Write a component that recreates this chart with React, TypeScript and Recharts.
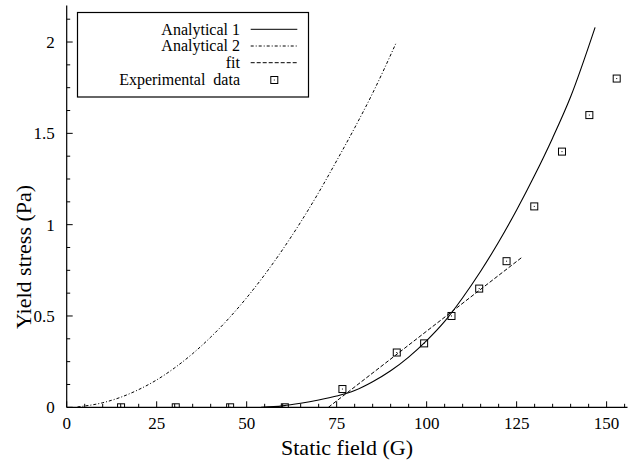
import React from 'react';
import { ComposedChart, Line, Scatter, XAxis, YAxis, Legend } from 'recharts';

// ---- data ----
const analytical1X = [54, 60, 65, 70, 75, 80, 85, 90, 95, 100, 105, 110, 115, 120, 125, 130, 135, 140, 146.8];
const analytical1Y = [0, 0.008, 0.022, 0.04, 0.062, 0.092, 0.14, 0.2, 0.275, 0.365, 0.47, 0.6, 0.745, 0.905, 1.08, 1.27, 1.475, 1.7, 2.08];

const analytical2X = [3, 10, 15, 20, 25, 30, 35, 40, 45, 50, 55, 60, 65, 70, 75, 80, 85, 91.4];
const analytical2Y = [0.002, 0.025, 0.055, 0.097, 0.15, 0.216, 0.294, 0.384, 0.486, 0.6, 0.726, 0.864, 1.014, 1.176, 1.35, 1.53, 1.72, 1.99];

const fitX = [72.7, 126.4];
const fitY = [0, 0.82];

const expX = [15.1, 30.3, 45.4, 60.6, 76.6, 91.7, 99.3, 106.9, 114.6, 122.2, 129.9, 137.6, 145.2, 152.8];
const expY = [0, 0, 0, 0, 0.1, 0.3, 0.35, 0.5, 0.65, 0.8, 1.1, 1.4, 1.6, 1.8];

const xTicks = [0, 5, 10, 15, 20, 25, 30, 35, 40, 45, 50, 55, 60, 65, 70, 75, 80, 85, 90, 95, 100, 105, 110, 115, 120, 125, 130, 135, 140, 145, 150, 155];
const yTicks = [0, 0.125, 0.25, 0.375, 0.5, 0.625, 0.75, 0.875, 1, 1.125, 1.25, 1.375, 1.5, 1.625, 1.75, 1.875, 2, 2.125];

const legendLabels = ['Analytical 1', 'Analytical 2', 'fit', 'Experimental  data'];

const zip = (xs: number[], ys: number[]) => xs.map((x, i) => ({ x, y: ys[i] }));
const a1Data = zip(analytical1X, analytical1Y);
const a2Data = zip(analytical2X, analytical2Y);
const fitData = zip(fitX, fitY);
const expData = zip(expX, expY);

const FONT = '"Liberation Serif", "Times New Roman", serif';
const TICK_FONT = 17;

const isMajorX = (v: number) => Math.abs(v / 25 - Math.round(v / 25)) < 1e-6;
const isMajorY = (v: number) => Math.abs(v / 0.5 - Math.round(v / 0.5)) < 1e-6;

const XTickBottom = (props: any) => {
  const { x, y, payload } = props;
  const v = payload.value;
  const major = isMajorX(v);
  return (
    <g>
      <line x1={x} x2={x} y1={y} y2={y - (major ? 6 : 3.5)} stroke="#000" strokeWidth={1} />
      {major && (
        <text x={x} y={y + 22} textAnchor="middle" fontFamily={FONT} fontSize={TICK_FONT} fill="#000">
          {v}
        </text>
      )}
    </g>
  );
};

const XTickTop = (props: any) => {
  const { x, y, payload } = props;
  const major = isMajorX(payload.value);
  return <line x1={x} x2={x} y1={y} y2={y + (major ? 6 : 3.5)} stroke="#000" strokeWidth={1} />;
};

const YTickLeft = (props: any) => {
  const { x, y, payload } = props;
  const v = payload.value;
  const major = isMajorY(v);
  return (
    <g>
      <line x1={x} x2={x + (major ? 6 : 3.5)} y1={y} y2={y} stroke="#000" strokeWidth={1} />
      {major && (
        <text x={x - 12} y={y + 6} textAnchor="end" fontFamily={FONT} fontSize={TICK_FONT} fill="#000">
          {v}
        </text>
      )}
    </g>
  );
};

const YTickRight = (props: any) => {
  const { x, y, payload } = props;
  const major = isMajorY(payload.value);
  return <line x1={x} x2={x - (major ? 6 : 3.5)} y1={y} y2={y} stroke="#000" strokeWidth={1} />;
};

const SquareShape = (props: any) => {
  const { cx, cy } = props;
  if (cx == null || cy == null) return null;
  return (
    <g>
      <rect x={cx - 3.5} y={cy - 3.5} width={7} height={7} fill="none" stroke="#000" strokeWidth={1} />
      <rect x={cx - 0.5} y={cy - 0.5} width={1} height={1} fill="#000" />
    </g>
  );
};

const renderLegend = () => {
  const rows = [17.3, 34, 50.7, 68];
  const dashes = [undefined, '3 2 1 2', '4 2'];
  return (
    <svg width={236} height={90} style={{ display: 'block', overflow: 'visible' }}>
      <rect x={0.5} y={0.5} width={231} height={84.5} fill="#fff" stroke="#000" strokeWidth={1.2} />
      {legendLabels.map((lab, i) => (
        <g key={lab}>
          <text
            x={163}
            y={rows[i] + 5.3}
            textAnchor="end"
            fontFamily={FONT}
            fontSize={16}
            fill="#000"
            style={{ whiteSpace: 'pre' }}
          >
            {lab}
          </text>
          {i < 3 ? (
            <line x1={173.7} x2={220.3} y1={rows[i]} y2={rows[i]} stroke="#000" strokeWidth={1} strokeDasharray={dashes[i]} />
          ) : (
            <SquareShape cx={197.3} cy={rows[i]} />
          )}
        </g>
      ))}
    </svg>
  );
};

export default function App() {
  return (
    <div style={{ position: 'absolute', left: 0, top: 0, background: '#fff' }}>
      <ComposedChart width={636} height={466} margin={{ top: 5.5, right: 8.5, bottom: 0, left: 0 }}>
        <XAxis
          xAxisId="bottom"
          type="number"
          dataKey="x"
          orientation="bottom"
          domain={[0, 155.8]}
          ticks={xTicks}
          interval={0}
          height={58.7}
          tickSize={0}
          tickMargin={0}
          tickLine={false}
          axisLine={{ stroke: '#000', strokeWidth: 1.2 }}
          tick={<XTickBottom />}
          allowDataOverflow
          label={{
            content: () => (
              <text x={347} y={455} textAnchor="middle" fontFamily={FONT} fontSize={22} fill="#000">
                Static field (G)
              </text>
            ),
          }}
        />
        <XAxis
          xAxisId="top"
          type="number"
          dataKey="x"
          orientation="top"
          domain={[0, 155.8]}
          ticks={xTicks}
          interval={0}
          height={0}
          tickSize={0}
          tickMargin={0}
          tickLine={false}
          axisLine={{ stroke: '#000', strokeWidth: 1.2 }}
          tick={<XTickTop />}
          allowDataOverflow
        />
        <YAxis
          yAxisId="left"
          type="number"
          orientation="left"
          domain={[0, 2.2]}
          ticks={yTicks}
          interval={0}
          width={66.7}
          tickSize={0}
          tickMargin={0}
          tickLine={false}
          axisLine={{ stroke: '#000', strokeWidth: 1.2 }}
          tick={<YTickLeft />}
          allowDataOverflow
          label={{
            content: () => (
              <text
                x={23}
                y={257}
                textAnchor="middle"
                dominantBaseline="central"
                transform="rotate(-90 23 257)"
                fontFamily={FONT}
                fontSize={22}
                fill="#000"
              >
                Yield stress (Pa)
              </text>
            ),
          }}
        />
        <YAxis
          yAxisId="right"
          type="number"
          orientation="right"
          domain={[0, 2.2]}
          ticks={yTicks}
          interval={0}
          width={0}
          tickSize={0}
          tickMargin={0}
          tickLine={false}
          axisLine={{ stroke: '#000', strokeWidth: 1.2 }}
          tick={<YTickRight />}
          allowDataOverflow
        />
        <Line
          xAxisId="bottom"
          yAxisId="left"
          data={a1Data}
          dataKey="y"
          type="monotone"
          stroke="#000"
          strokeWidth={1.1}
          dot={false}
          activeDot={false}
          isAnimationActive={false}
        />
        <Line
          xAxisId="bottom"
          yAxisId="left"
          data={a2Data}
          dataKey="y"
          type="monotone"
          stroke="#000"
          strokeWidth={1}
          strokeDasharray="3 2 1 2"
          dot={false}
          activeDot={false}
          isAnimationActive={false}
        />
        <Line
          xAxisId="bottom"
          yAxisId="left"
          data={fitData}
          dataKey="y"
          type="linear"
          stroke="#000"
          strokeWidth={1}
          strokeDasharray="4 2"
          dot={false}
          activeDot={false}
          isAnimationActive={false}
        />
        <Scatter
          xAxisId="bottom"
          yAxisId="left"
          data={expData}
          dataKey="y"
          shape={<SquareShape />}
          isAnimationActive={false}
        />
        <Legend
          layout="vertical"
          align="center"
          verticalAlign="middle"
          content={renderLegend}
          wrapperStyle={{ left: 77, top: 12, width: 236, height: 90 }}
        />
      </ComposedChart>
    </div>
  );
}
